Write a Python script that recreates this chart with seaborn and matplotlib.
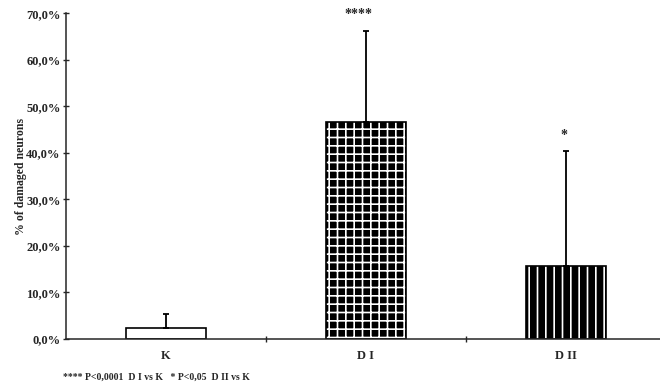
import matplotlib
matplotlib.use('Agg')
import matplotlib.pyplot as plt
import matplotlib.ticker as mticker
import pandas as pd
import seaborn as sns

#%% DATOS

grupos = ['K', 'D I', 'D II']
media = [2.4, 46.7, 15.8]          # % of damaged neurons
desvio = [3.0, 19.6, 24.6]
signif = ['', '****', '*']
nota = '**** P<0,0001  D I vs K   * P<0,05  D II vs K'

datos = pd.DataFrame({'grupo': grupos, 'media': media})

#%% GRAFICO

sns.set_style('ticks')
plt.rcParams['font.family'] = ['Liberation Serif', 'DejaVu Serif']
plt.rcParams['font.weight'] = 'bold'
plt.rcParams['hatch.linewidth'] = 1.2

fig = plt.figure(figsize=(6.6, 3.85), dpi=100)
ax = fig.add_axes([0.1, 0.1195, 0.909, 0.8455])

sns.barplot(x='grupo', y='media', data=datos, order=grupos, errorbar=None,
            width=0.4, ax=ax, color='black')

rellenos = ['white', 'black', 'black']
tramas = ['', '++', '||']
for p, fc, h in zip(ax.patches, rellenos, tramas):
    p.set_facecolor(fc)
    if h:
        p.set_hatch(h)
        p.set_edgecolor('white')
        p.set_linewidth(0)
        ax.add_patch(plt.Rectangle(p.get_xy(), p.get_width(), p.get_height(),
                                   fill=False, edgecolor='black', linewidth=1.2))
    else:
        p.set_edgecolor('black')
        p.set_linewidth(1.2)

x = list(range(len(grupos)))
ax.errorbar(x, media, yerr=[[0]*len(desvio), desvio], fmt='none',
            ecolor='black', elinewidth=1.3, capsize=2.5, capthick=1.3)

for i, s in enumerate(signif):
    if s:
        ax.text(i - 0.04 if len(s) > 1 else i - 0.01, media[i] + desvio[i] + 2.0, s,
                ha='center', va='bottom', fontsize=10, fontweight='bold', clip_on=False)

ax.set_xlim(-0.5, 2.5)
ax.set_ylim(0, 70)
ax.yaxis.set_major_locator(mticker.MultipleLocator(10))
ax.yaxis.set_major_formatter(mticker.FuncFormatter(lambda v, pos: ('%.1f%%' % v).replace('.', ',')))
ax.tick_params(axis='y', direction='inout', length=4, width=1, labelsize=9, pad=2)
ax.tick_params(axis='x', which='major', length=0, labelsize=9, pad=8)
ax.set_xticks([0.5, 1.5], minor=True)
ax.tick_params(axis='x', which='minor', direction='inout', length=4, width=1)

for lab in ax.get_xticklabels() + ax.get_yticklabels():
    lab.set_fontweight('bold')

ax.set_xlabel('')
ax.set_ylabel('% of damaged neurons', fontsize=8.5, fontweight='bold', labelpad=-1)
sns.despine(ax=ax)
ax.spines['left'].set_linewidth(1.1)
ax.spines['bottom'].set_linewidth(1.1)

fig.text(0.095, 0.008, nota, fontsize=7, fontweight='bold', ha='left', va='bottom')

fig.savefig('out.png', dpi=100)
